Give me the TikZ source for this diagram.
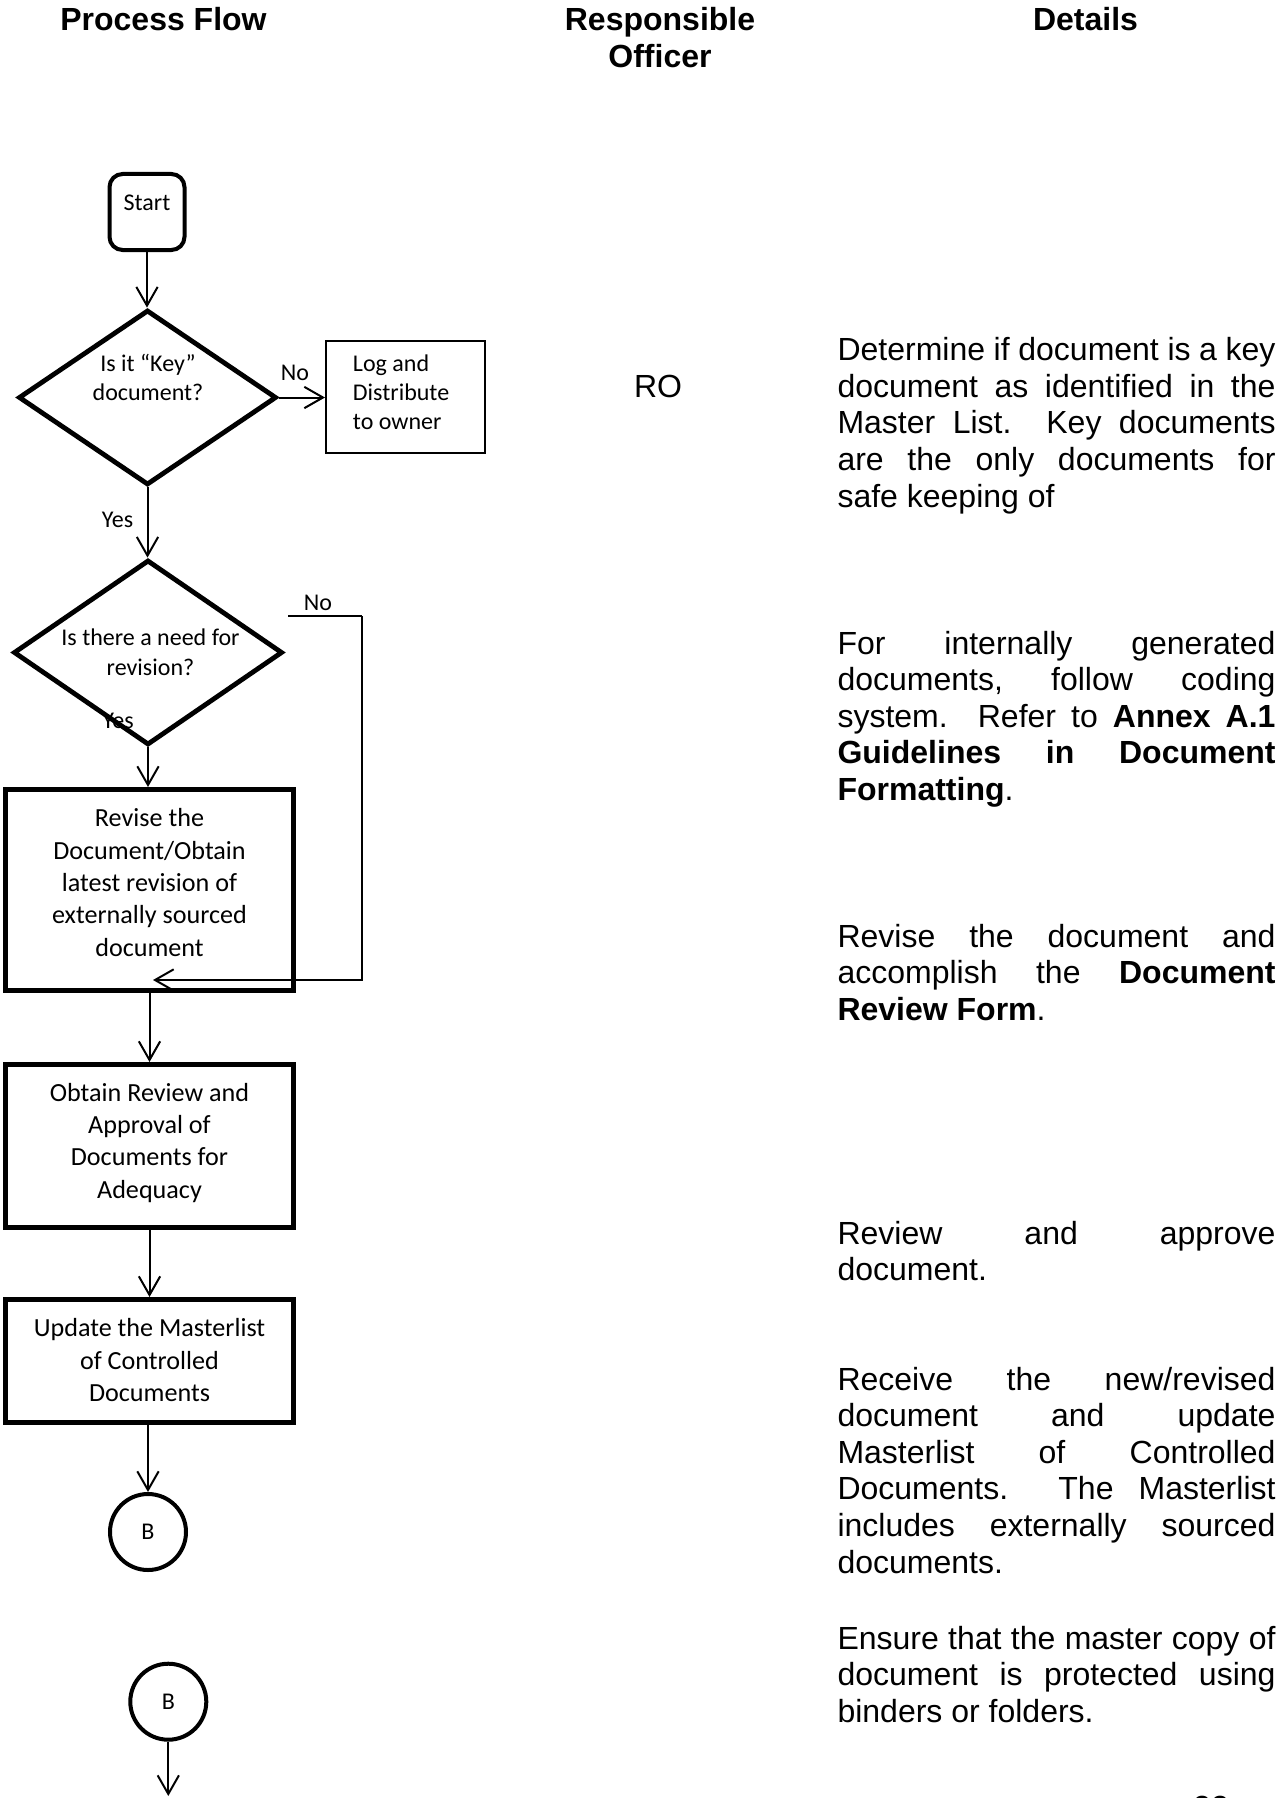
\documentclass[tikz,border=0pt]{standalone}
\usepackage{fontspec}
\setmainfont{Liberation Sans}
\newfontfamily\calibri{Carlito}
\usetikzlibrary{shapes.geometric,arrows.meta}
\begin{document}
\begin{tikzpicture}[x=0.375pt,y=-0.375pt]
\tikzset{
 conn/.style={line width=0.75pt,-{Straight Barb[length=7pt,width=8pt]}},
 smalltxt/.style={font=\calibri\fontsize{9pt}{10.9pt}\selectfont},
 bigtxt/.style={font=\calibri\fontsize{9.8pt}{12.15pt}\selectfont},
 bodytxt/.style={font=\fontsize{12pt}{13.74pt}\selectfont, inner sep=0pt, anchor=base west},
 hdr/.style={font=\bfseries\fontsize{12pt}{13.76pt}\selectfont, inner sep=0pt, anchor=base},
 lbl/.style={smalltxt, inner sep=0pt, anchor=base},
 flowbox/.style={draw, rectangle, line width=1.7pt, inner sep=0pt, minimum width=108.19pt, bigtxt},
 dia/.style={draw, diamond, line width=1.8pt, inner sep=0pt},
 conbox/.style={draw, circle, line width=1.5pt, inner sep=0pt, minimum size=28.5pt, smalltxt},
 startbox/.style={draw, rectangle, rounded corners=4.9pt, line width=1.5pt, inner sep=0pt, minimum width=28.125pt, smalltxt},
 logbox/.style={draw, rectangle, line width=0.75pt, inner sep=0pt, minimum width=59.625pt, smalltxt},
}
\useasboundingbox (0,0) rectangle (1282,1798);

% headers
\node[hdr] (hpf) at (163.5,30.5) {Process Flow};
\node[hdr] (hro) at (660,30.5) {\parbox[t]{120pt}{\centering Responsible\\Officer}};
\node[hdr] (hdt) at (1085.5,30.5) {Details};

% flow
\node[startbox, text height=13.76pt, text depth=14.74pt] (start) at (147,212) {Start\hspace{2.6pt}};

\node[dia, minimum width=96.75pt, minimum height=65.625pt] (d1) at (147.5,397.5) {};
\node[lbl] (d1t) at (148,371) {\parbox[t]{100pt}{\centering Is it “Key”\\document?}};

\node[logbox, text height=11.44pt, text depth=30.56pt] (log) at (405.5,397)
  {\parbox[t]{39.4pt}{\raggedright Log and\\Distribute\\to owner}};
\node[lbl] (no1) at (295,380.7) {No};

\node[lbl] (yes1) at (117.5,527.3) {Yes};
\node[lbl] (yes2) at (118,728.3) {Yes};
\node[dia, minimum width=100.875pt, minimum height=69.375pt] (d2) at (148,652.5) {};
\node[lbl, font=\calibri\fontsize{9pt}{11.25pt}\selectfont] (d2t) at (150.5,645.7)
  {\parbox[t]{110pt}{\centering Is there a need for\\revision?}};
\node[lbl] (no2) at (318,610) {No};

\node[flowbox, text height=14.04pt, text depth=61.52pt] (rev) at (149.5,890)
  {\parbox[t]{105pt}{\centering Revise the\\Document/Obtain\\latest revision of\\externally sourced\\document}};
\node[flowbox, text height=13.78pt, text depth=47.53pt] (obt) at (149.5,1146)
  {\parbox[t]{105pt}{\centering Obtain Review and\\Approval of\\Documents for\\Adequacy}};
\node[flowbox, text height=14.04pt, text depth=32.27pt] (upd) at (149.5,1361)
  {\parbox[t]{105pt}{\centering Update the Masterlist\\of Controlled\\Documents}};

\node[conbox] (b1) at (148,1532) {B};
\node[conbox] (b2) at (168.3,1701.7) {B};

% connectors
\draw[conn] (start.south) -- (start.south |- d1.north);
\draw[conn] (d1.east) -- (d1.east -| log.west);
\draw[conn] (d1.south) -- (d1.south |- d2.north);
\draw[conn] (d2.south) -- (d2.south |- rev.north);
\coordinate (nos) at (288,616);
\coordinate (noc) at (362,616);
\coordinate (noe) at (153,980);
\draw[line width=0.75pt] (nos) -- (noc);
\draw[conn] (noc) |- (noe);
\draw[conn] (rev.south) -- (rev.south |- obt.north);
\draw[conn] (obt.south) -- (obt.south |- upd.north);
\draw[conn] (b1.north |- upd.south) -- (b1.north);
\coordinate (bend) at (168.3,1796);
\draw[conn] (b2.south) -- (bend);

% responsible officer
\node[bodytxt, anchor=base] (ro) at (658,397.5) {RO};

% details
\node[bodytxt] (p1) at (837,360.7) {\parbox[t]{164.25pt}{\frenchspacing\tolerance=10000\hbadness=10000 Determine if document is a key\linebreak document as identified in the\linebreak Master List.\ \ Key documents\linebreak are the only documents for\linebreak safe keeping of}};
\node[bodytxt] (p2) at (837,654) {\parbox[t]{164.25pt}{\frenchspacing\tolerance=10000\hbadness=10000 For internally generated\linebreak documents, follow coding\linebreak system.\ \ Refer to \textbf{Annex A.1}\linebreak \textbf{Guidelines in Document}\linebreak \textbf{Formatting}.}};
\node[bodytxt] (p3) at (837,947.3) {\parbox[t]{164.25pt}{\frenchspacing\tolerance=10000\hbadness=10000 Revise the document and\linebreak accomplish the \textbf{Document}\linebreak \textbf{Review Form}.}};
\node[bodytxt] (p4) at (837,1244) {\parbox[t]{164.25pt}{\frenchspacing\tolerance=10000\hbadness=10000 Review and approve\linebreak document.}};
\node[bodytxt] (p5) at (837,1390) {\parbox[t]{164.25pt}{\frenchspacing\tolerance=10000\hbadness=10000 Receive the new/revised\linebreak document and update\linebreak Masterlist of Controlled\linebreak Documents.\ \ The Masterlist\linebreak includes externally sourced\linebreak documents.}};
\node[bodytxt] (p6) at (837,1649) {\parbox[t]{164.25pt}{\frenchspacing\tolerance=10000\hbadness=10000 Ensure that the master copy of\linebreak document is protected using\linebreak binders or folders.}};

% page number (cut off at the page edge, as in the reference)
\begin{scope}
\clip (0,0) rectangle (1282,1798);
\node[bodytxt, anchor=base] (pgn) at (1211,1818) {22};
\end{scope}
\end{tikzpicture}
\end{document}
